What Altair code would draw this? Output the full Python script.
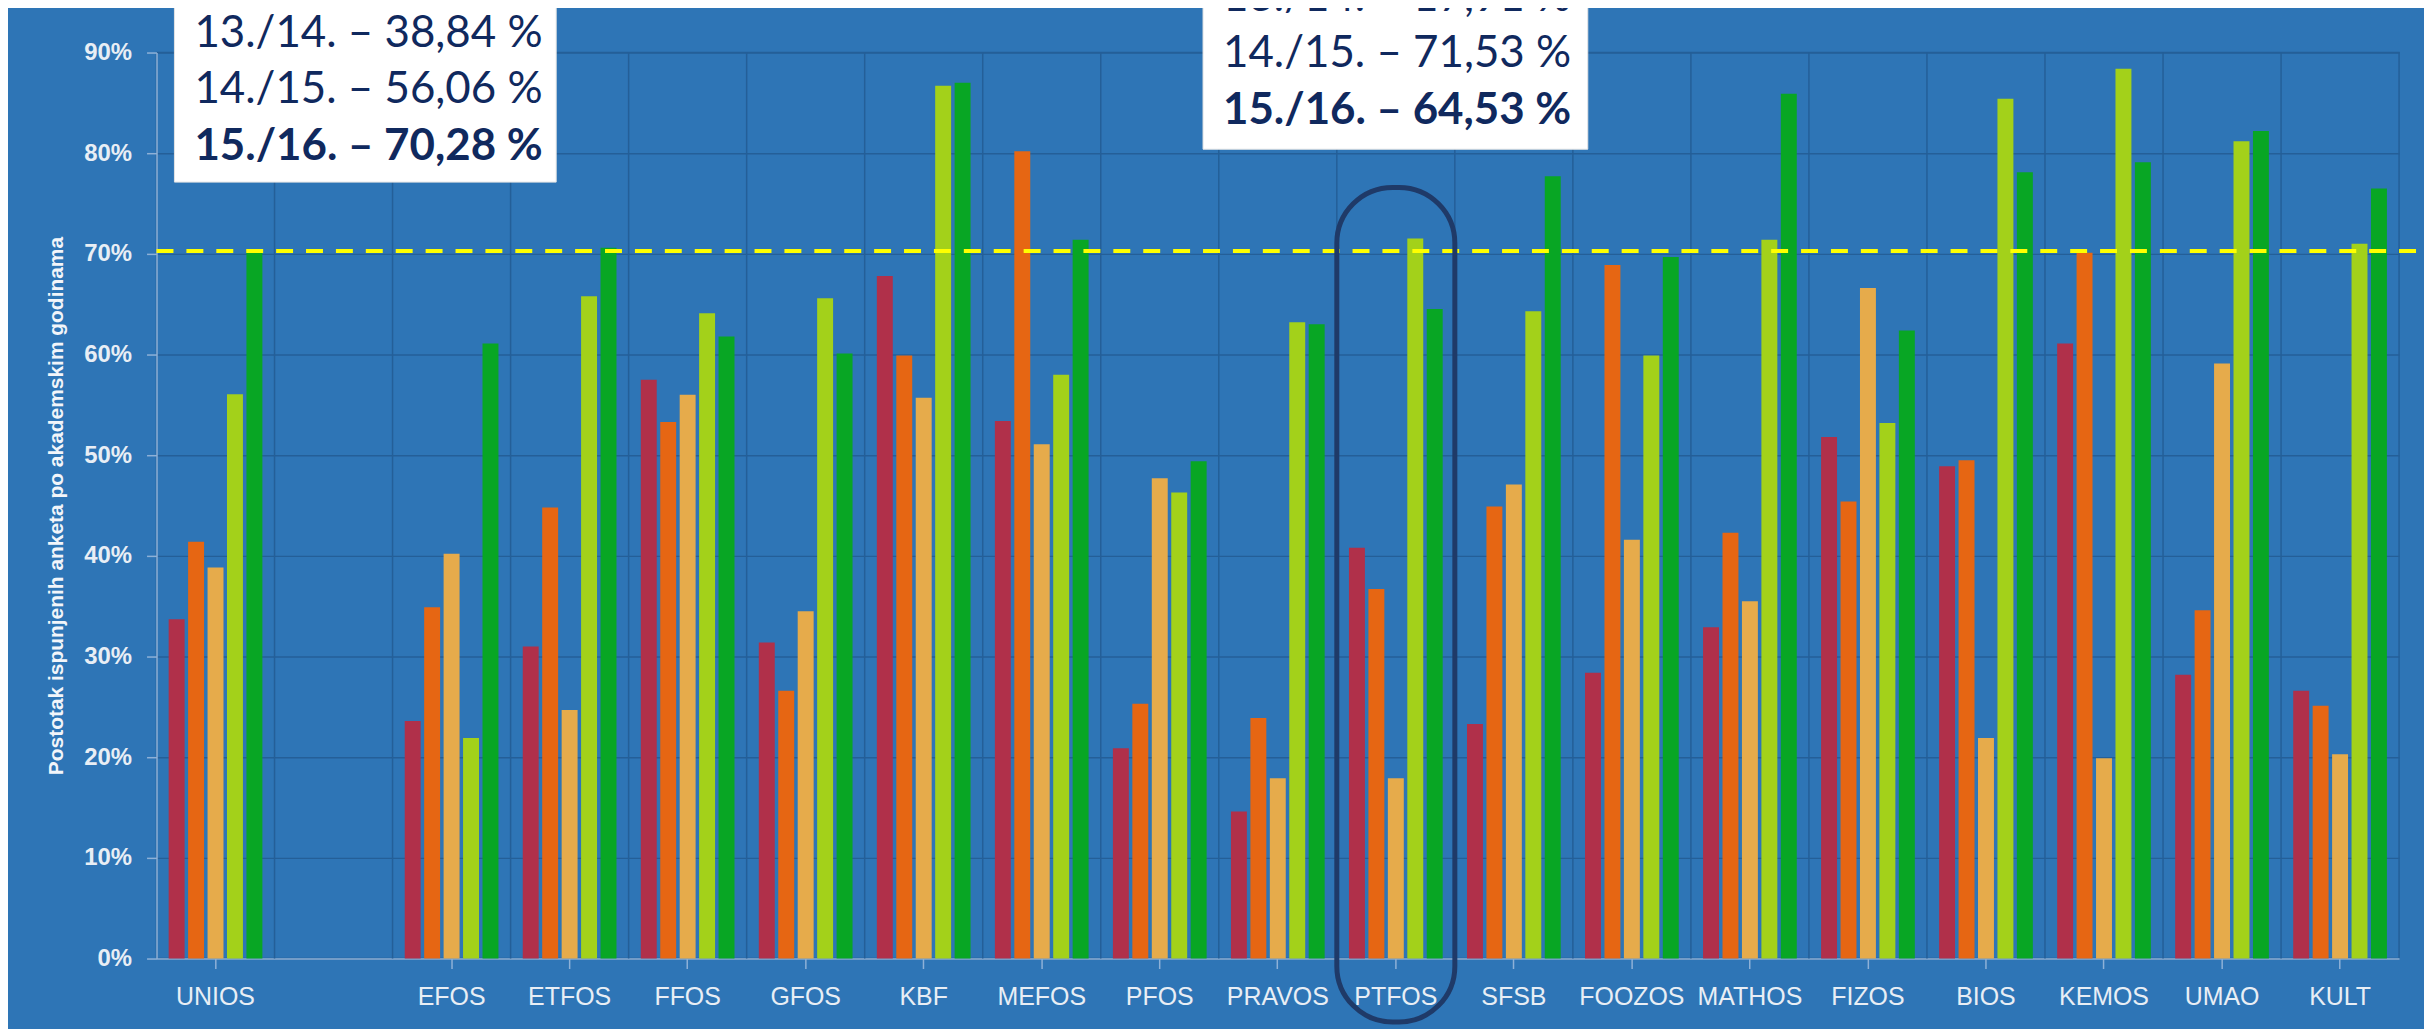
import altair as alt
import pandas as pd

# ---------------- data ----------------
CATEGORIES = ["UNIOS", " ", "EFOS", "ETFOS", "FFOS", "GFOS", "KBF", "MEFOS", "PFOS",
              "PRAVOS", "PTFOS", "SFSB", "FOOZOS", "MATHOS", "FIZOS", "BIOS", "KEMOS",
              "UMAO", "KULT"]
YEARS = ["11./12.", "12./13.", "13./14.", "14./15.", "15./16."]
COLORS = ["#B0304A", "#E66613", "#E6AB4B", "#A3D11A", "#08A624"]

Y1112 = [33.7, None, 23.6, 31.0, 57.5, 31.4, 67.8, 53.4, 20.9, 14.6, 40.8, 23.3, 28.4, 32.9, 51.8, 48.9, 61.1, 28.2, 26.6]
Y1213 = [41.4, None, 34.9, 44.8, 53.3, 26.6, 59.9, 80.2, 25.3, 23.9, 36.7, 44.9, 68.9, 42.3, 45.4, 49.5, 70.1, 34.6, 25.1]
Y1314 = [38.84, None, 40.2, 24.7, 56.0, 34.5, 55.7, 51.1, 47.7, 17.9, 17.91, 47.1, 41.6, 35.5, 66.6, 21.9, 19.9, 59.1, 20.3]
Y1415 = [56.06, None, 21.9, 65.8, 64.1, 65.6, 86.7, 58.0, 46.3, 63.2, 71.53, 64.3, 59.9, 71.4, 53.2, 85.4, 88.4, 81.2, 71.0]
Y1516 = [70.28, None, 61.1, 70.6, 61.8, 60.1, 87.0, 71.4, 49.4, 63.0, 64.53, 77.7, 69.7, 85.9, 62.4, 78.1, 79.1, 82.2, 76.5]
SERIES = [Y1112, Y1213, Y1314, Y1415, Y1516]

Y_TICKS = [0, 0.1, 0.2, 0.3, 0.4, 0.5, 0.6, 0.7, 0.8, 0.9]
TARGET = 0.7028
HIGHLIGHT = "PTFOS"
LEFT_BOX = ["13./14. \u2013 38,84 %", "14./15. \u2013 56,06 %", "15./16. \u2013 70,28 %"]
MID_BOX = ["13./14. \u2013 17,91 %", "14./15. \u2013 71,53 %", "15./16. \u2013 64,53 %"]
Y_TITLE = "Postotak ispunjenih anketa po akademskim godinama"

rows = []
for year, vals in zip(YEARS, SERIES):
    for cat, v in zip(CATEGORIES, vals):
        if v is not None:
            rows.append({"cat": cat, "year": year, "value": v / 100.0})
df = pd.DataFrame(rows)

# ---------------- styling ----------------
W, H = 2250, 909
BG = "#2E75B6"
GRID = "#245F98"
LIGHT = "#8EB1D7"
LABEL = "#E8EEF5"
NAVY = "#10295E"

x_scale = alt.Scale(domain=CATEGORIES, paddingInner=0, paddingOuter=0)
y_scale = alt.Scale(domain=[0, 0.9], nice=False)

x_axis = alt.Axis(
    title=None, labelAngle=0, grid=False,
    labelFont="Liberation Sans, Arial, sans-serif", labelFontSize=25,
    labelColor=LABEL, labelPadding=16,
    tickSize=10, tickColor=LIGHT, tickWidth=1.5,
    tickOpacity={"condition": {"test": "datum.value === ' '", "value": 0}, "value": 1},
    domainColor=LIGHT, domainWidth=1.5,
)

# vertical grid lines at band boundaries
vgrid = alt.Chart(pd.DataFrame({"cat": CATEGORIES[1:]})).mark_rule(
    color=GRID, strokeWidth=1.5
).encode(x=alt.X("cat:N", bandPosition=0, scale=x_scale, axis=x_axis))

bars = alt.Chart(df).mark_bar().encode(
    x=alt.X("cat:N", scale=x_scale, axis=x_axis),
    xOffset=alt.XOffset("year:N", scale=alt.Scale(domain=YEARS, paddingInner=0.18, paddingOuter=0.625)),
    y=alt.Y(
        "value:Q",
        scale=y_scale,
        axis=alt.Axis(
            values=Y_TICKS, format=".0%", title=Y_TITLE,
            labelFont="Liberation Sans, Arial, sans-serif", labelFontSize=24,
            labelFontWeight="bold", labelColor=LABEL, labelPadding=15,
            tickSize=10, tickColor=LIGHT, tickWidth=1.5,
            domainColor=LIGHT, domainWidth=1.5,
            grid=True, gridColor=GRID, gridWidth=1.5,
            titleFont="Liberation Sans Narrow, Liberation Sans, Arial, sans-serif",
            titleFontSize=21, titleFontWeight="bold", titleColor="#F2F5FA",
            titleX=-100, titleY=H / 2, titleAngle=270,
            titleAlign="center", titleBaseline="middle",
        ),
    ),
    color=alt.Color("year:N", scale=alt.Scale(domain=YEARS, range=COLORS), legend=None),
)

target = alt.Chart(pd.DataFrame({"t": [TARGET]})).mark_rule(
    color="#FFFF00", strokeWidth=4, strokeDash=[17, 13]
).encode(y=alt.Y("t:Q", scale=y_scale), x=alt.value(0), x2=alt.value(W + 21))

highlight = alt.Chart(pd.DataFrame({"cat": [HIGHLIGHT], "top": [0.766], "bot": [-0.063]})).mark_rect(
    fill=None, stroke="#1F3A68", strokeWidth=5, cornerRadius=56
).encode(
    x=alt.X("cat:N", scale=x_scale, axis=x_axis),
    y=alt.Y("top:Q", scale=y_scale),
    y2="bot:Q",
)

layers = [vgrid, bars, target, highlight]

# callout boxes
box_df = pd.DataFrame({"d": [1]})
layers.append(alt.Chart(box_df).mark_rect(fill="white", stroke="#E4E4E4", strokeWidth=1).encode(
    x=alt.value(18), x2=alt.value(401), y=alt.value(-70), y2=alt.value(130)))
layers.append(alt.Chart(box_df).mark_rect(fill="white", stroke="#E4E4E4", strokeWidth=1).encode(
    x=alt.value(1050), x2=alt.value(1436), y=alt.value(-70), y2=alt.value(97)))

for i, line in enumerate(LEFT_BOX):
    layers.append(alt.Chart(pd.DataFrame({"t": [line]})).mark_text(
        align="left", baseline="middle", font="Lato", fontSize=44,
        fontWeight="bold" if i == 2 else "normal", color=NAVY
    ).encode(x=alt.value(38), y=alt.value(-19 + 57 * i), text="t:N"))

for i, line in enumerate(MID_BOX):
    layers.append(alt.Chart(pd.DataFrame({"t": [line]})).mark_text(
        align="left", baseline="middle", font="Lato", fontSize=44,
        fontWeight="bold" if i == 2 else "normal", color=NAVY
    ).encode(x=alt.value(1070), y=alt.value(-55 + 57 * i), text="t:N"))

chart = alt.layer(*layers).properties(
    width=W, height=H,
    autosize=alt.AutoSizeParams(type="none"),
    padding={"left": 149, "top": 43, "right": 25, "bottom": 69},
).configure(background=BG).configure_view(stroke=GRID, strokeWidth=1.5)

chart.save("out.html", embed_options={"renderer": "svg", "actions": False})
